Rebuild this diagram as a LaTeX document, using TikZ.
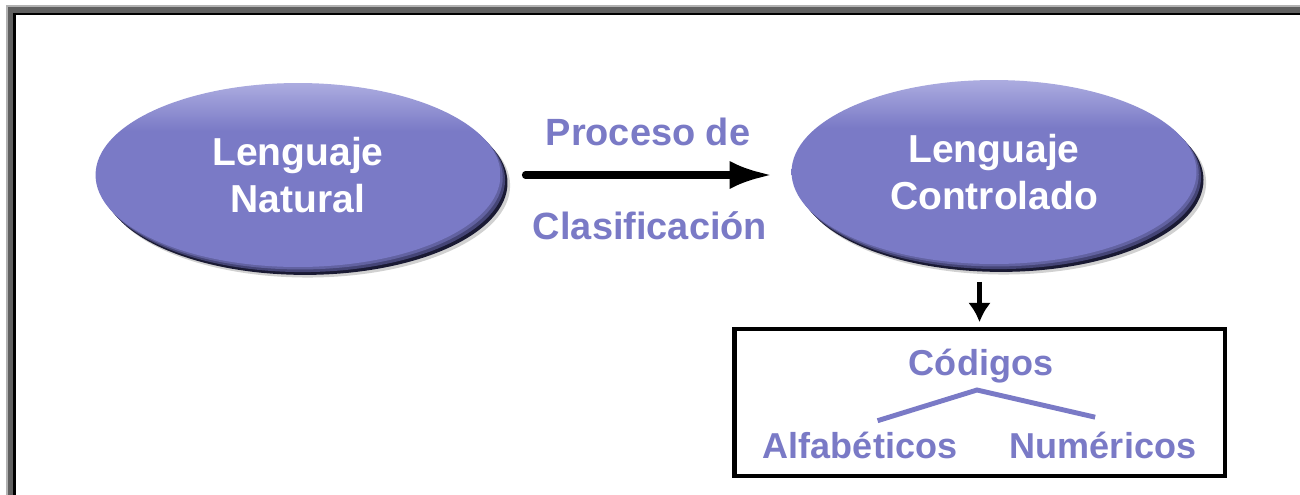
\documentclass[tikz,border=0pt]{standalone}
\usepackage{fontspec}
\setmainfont{Liberation Sans}
\usetikzlibrary{shapes.geometric,arrows.meta,shadows}
\definecolor{lila}{RGB}{122,122,198}
\definecolor{lilalight}{RGB}{172,172,224}
\definecolor{lilashadow}{RGB}{26,26,52}
\definecolor{framegray}{RGB}{96,96,96}
\definecolor{framelight}{RGB}{178,178,178}
\pgfdeclareverticalshading{blobshade}{100bp}{color(0bp)=(lila); color(25bp)=(lila); color(62bp)=(lila); color(75bp)=(lilalight); color(100bp)=(lilalight)}

\begin{document}
\begin{tikzpicture}[x=0.02cm, y=-0.02cm,
    blob/.style={ellipse, minimum width=8.1cm, minimum height=3.68cm, inner sep=0pt,
      align=center, text=white, font=\fontsize{22.2}{26.6}\selectfont\bfseries,
      general shadow={fill=black, opacity=0.18, shadow xshift=5.5pt, shadow yshift=-6pt},
      general shadow={fill=lilashadow, shadow xshift=4pt, shadow yshift=-4.5pt},
      general shadow={fill=lilashadow!55!lila, shadow xshift=2.6pt, shadow yshift=-2.9pt},
      general shadow={fill=lilashadow!25!lila, shadow xshift=1.3pt, shadow yshift=-1.4pt},
      shading=blobshade},
    proctext/.style={anchor=base, inner sep=0pt, text=lila, font=\fontsize{21.6}{26}\selectfont\bfseries},
    codetext/.style={anchor=base, inner sep=0pt, text=lila, font=\fontsize{20.5}{24.6}\selectfont\bfseries},
    bigarrow/.style={line width=4pt, line cap=round, -{Latex[length=24pt,width=16pt]}},
    smallarrow/.style={line width=2.8pt, -{Latex[length=11pt,width=13pt]}},
    branch/.style={line width=2.8pt, lila}]
    \useasboundingbox (0,0) rectangle (1300,494);
    \fill[framelight] (6,5) rectangle (1330,520);
    \fill[framegray] (8,7) rectangle (1330,520);
    \fill[black] (13,13) rectangle (1330,520);
    \fill[white] (16,15) rectangle (1330,520);

    \node[blob] (natural) at (298,175) {Lenguaje\\Natural};
    \node[blob] (control) at (994,172) {Lenguaje\\Controlado};
    \node[proctext] (proceso) at (648,145) {Proceso de};
    \node[proctext] (clasif) at (650,239) {Clasificación};
    \draw[bigarrow, shorten <=14pt, shorten >=11pt] (natural.east) -- (natural.east -| control.west);

    \node[draw, line width=2.8pt, minimum width=9.82cm, minimum height=2.94cm] (codigos) at (979.5,402.5) {};
    \draw[smallarrow, shorten <=10pt, shorten >=2.5pt] (codigos.north |- control.south) -- (codigos.north);
    \node[codetext] (cod) at (981,375) {Códigos};
    \node[codetext] (alfa) at (860,458) {Alfabéticos};
    \node[codetext] (num) at (1103,458) {Numéricos};
    \coordinate (apex) at (977,390);
    \draw[branch] ([xshift=10pt,yshift=6pt]alfa.north) -- (apex) -- ([xshift=-4.5pt,yshift=8pt]num.north);
  \end{tikzpicture}
\end{document}
